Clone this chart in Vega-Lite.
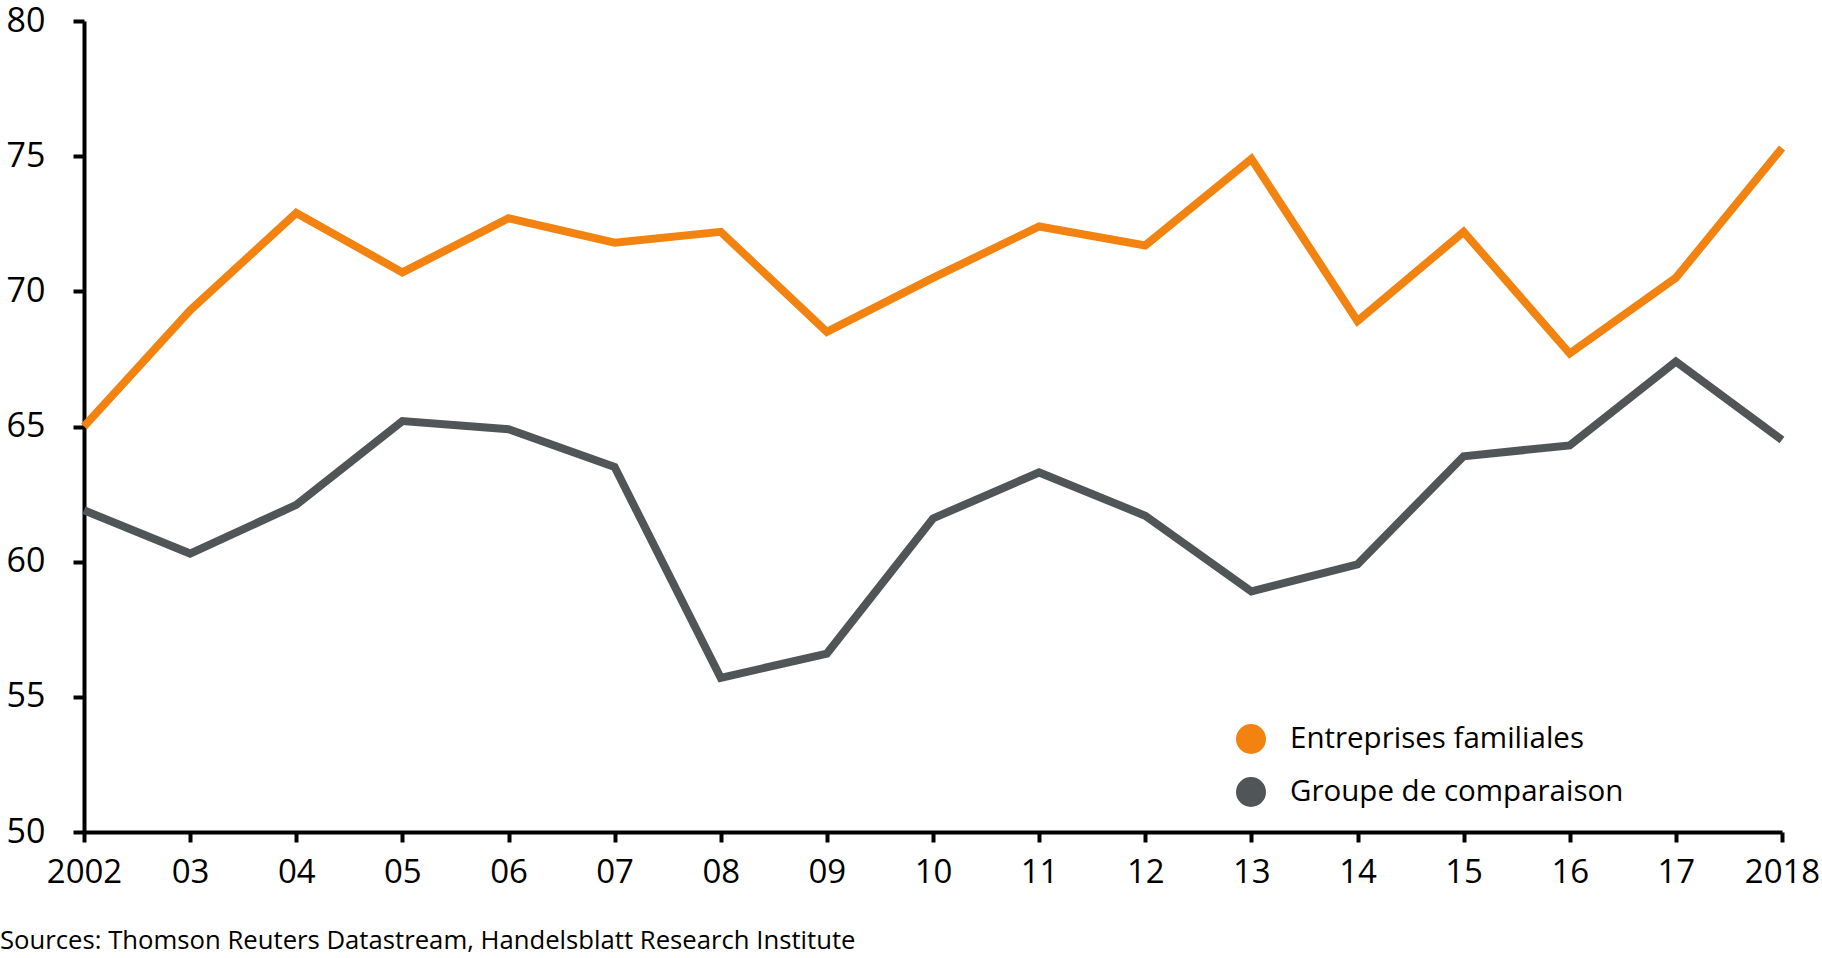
{
  "$schema": "https://vega.github.io/schema/vega-lite/v6.json",
  "width": 1698,
  "height": 811,
  "autosize": {"type": "none"},
  "padding": {"left": 84, "top": 21, "right": 40, "bottom": 126},
  "background": "white",
  "config": {
    "font": "Open Sans",
    "view": {"stroke": null}
  },
  "title": {
    "text": "Sources: Thomson Reuters Datastream, Handelsblatt Research Institute",
    "orient": "bottom",
    "anchor": "start",
    "frame": "group",
    "dx": -84,
    "offset": 40,
    "fontSize": 25.7,
    "fontWeight": "normal",
    "color": "#000000",
    "font": "Open Sans"
  },
  "data": {
    "values": [
      {"year": 2002, "series": "Entreprises familiales", "value": 65.0},
      {"year": 2003, "series": "Entreprises familiales", "value": 69.3},
      {"year": 2004, "series": "Entreprises familiales", "value": 72.9},
      {"year": 2005, "series": "Entreprises familiales", "value": 70.7},
      {"year": 2006, "series": "Entreprises familiales", "value": 72.7},
      {"year": 2007, "series": "Entreprises familiales", "value": 71.8},
      {"year": 2008, "series": "Entreprises familiales", "value": 72.2},
      {"year": 2009, "series": "Entreprises familiales", "value": 68.5},
      {"year": 2010, "series": "Entreprises familiales", "value": 70.5},
      {"year": 2011, "series": "Entreprises familiales", "value": 72.4},
      {"year": 2012, "series": "Entreprises familiales", "value": 71.7},
      {"year": 2013, "series": "Entreprises familiales", "value": 74.9},
      {"year": 2014, "series": "Entreprises familiales", "value": 68.9},
      {"year": 2015, "series": "Entreprises familiales", "value": 72.2},
      {"year": 2016, "series": "Entreprises familiales", "value": 67.7},
      {"year": 2017, "series": "Entreprises familiales", "value": 70.5},
      {"year": 2018, "series": "Entreprises familiales", "value": 75.3},
      {"year": 2002, "series": "Groupe de comparaison", "value": 61.9},
      {"year": 2003, "series": "Groupe de comparaison", "value": 60.3},
      {"year": 2004, "series": "Groupe de comparaison", "value": 62.1},
      {"year": 2005, "series": "Groupe de comparaison", "value": 65.2},
      {"year": 2006, "series": "Groupe de comparaison", "value": 64.9},
      {"year": 2007, "series": "Groupe de comparaison", "value": 63.5},
      {"year": 2008, "series": "Groupe de comparaison", "value": 55.7},
      {"year": 2009, "series": "Groupe de comparaison", "value": 56.6},
      {"year": 2010, "series": "Groupe de comparaison", "value": 61.6},
      {"year": 2011, "series": "Groupe de comparaison", "value": 63.3},
      {"year": 2012, "series": "Groupe de comparaison", "value": 61.7},
      {"year": 2013, "series": "Groupe de comparaison", "value": 58.9},
      {"year": 2014, "series": "Groupe de comparaison", "value": 59.9},
      {"year": 2015, "series": "Groupe de comparaison", "value": 63.9},
      {"year": 2016, "series": "Groupe de comparaison", "value": 64.3},
      {"year": 2017, "series": "Groupe de comparaison", "value": 67.4},
      {"year": 2018, "series": "Groupe de comparaison", "value": 64.5}
    ]
  },
  "mark": {"type": "line", "strokeWidth": 8, "strokeJoin": "miter", "strokeCap": "butt", "clip": false},
  "encoding": {
    "x": {
      "field": "year",
      "type": "quantitative",
      "scale": {"domain": [2002, 2018], "nice": false, "zero": false},
      "axis": {
        "title": null,
        "grid": false,
        "values": [2002, 2003, 2004, 2005, 2006, 2007, 2008, 2009, 2010, 2011, 2012, 2013, 2014, 2015, 2016, 2017, 2018],
        "labelExpr": "datum.value == 2002 || datum.value == 2018 ? '' + datum.value : slice('' + datum.value, 2)",
        "labelFontSize": 33,
        "labelColor": "#000000",
        "labelPadding": 14,
        "labelFlush": false,
        "labelOverlap": false,
        "domainColor": "#000000",
        "domainWidth": 4,
        "tickColor": "#000000",
        "tickWidth": 4,
        "tickSize": 10
      }
    },
    "y": {
      "field": "value",
      "type": "quantitative",
      "scale": {"domain": [50, 80], "nice": false, "zero": false},
      "axis": {
        "title": null,
        "grid": false,
        "values": [50, 55, 60, 65, 70, 75, 80],
        "labelFontSize": 34,
        "labelColor": "#000000",
        "labelPadding": 28,
        "domainColor": "#000000",
        "domainWidth": 4,
        "tickColor": "#000000",
        "tickWidth": 4,
        "tickSize": 11
      }
    },
    "color": {
      "field": "series",
      "type": "nominal",
      "scale": {"domain": ["Entreprises familiales", "Groupe de comparaison"], "range": ["#F28310", "#505558"]},
      "legend": {
        "title": null,
        "orient": "none",
        "legendX": 1152,
        "legendY": 703,
        "symbolType": "circle",
        "symbolSize": 225,
        "symbolStrokeWidth": 15,
        "symbolOpacity": 1,
        "labelFontSize": 29.5,
        "labelColor": "#000000",
        "labelOffset": 24,
        "labelLimit": 600,
        "rowPadding": -41,
        "labelFont": "Open Sans"
      }
    }
  }
}
